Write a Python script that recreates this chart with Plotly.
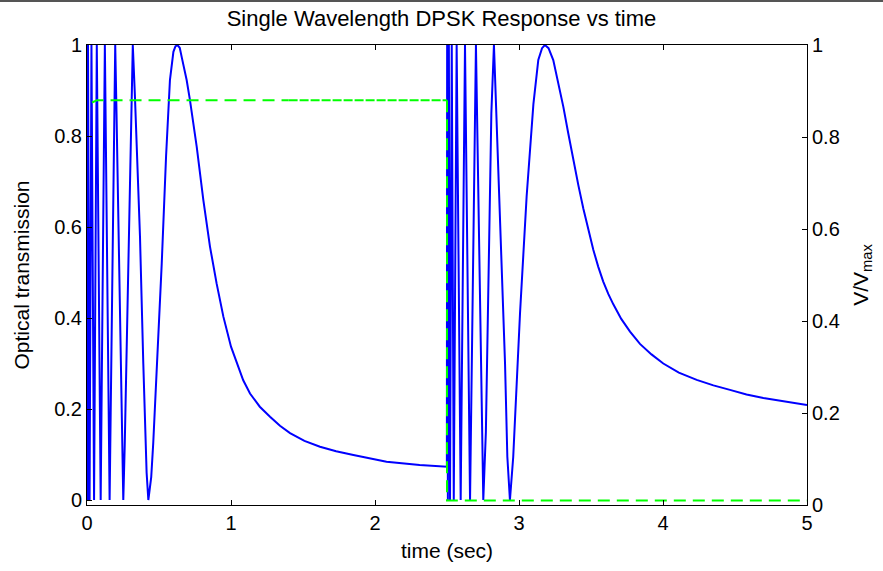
import plotly.graph_objects as go

# Optical transmission (blue): time (sec) and value
time_s = [0.000, 0.001, 0.002, 0.003, 0.004, 0.005, 0.007, 0.018, 0.031, 0.049, 0.068,
          0.095, 0.124, 0.157, 0.196, 0.205, 0.243, 0.252, 0.262, 0.285, 0.308, 0.318,
          0.333, 0.368, 0.391, 0.414, 0.426, 0.446, 0.460, 0.489, 0.519, 0.549, 0.576,
          0.600, 0.614, 0.628, 0.644, 0.660, 0.692, 0.715, 0.762, 0.808, 0.854, 0.900,
          0.947, 1.000, 1.040, 1.085, 1.132, 1.200, 1.271, 1.340, 1.410, 1.510, 1.618,
          1.730, 1.850, 2.080, 2.310, 2.499,
          2.501, 2.506, 2.513, 2.521, 2.533, 2.547, 2.567, 2.595, 2.625, 2.660, 2.701,
          2.752, 2.770, 2.789, 2.808, 2.826, 2.856, 2.880, 2.903, 2.919, 2.937, 2.960,
          3.007, 3.053, 3.100, 3.134, 3.160, 3.180, 3.205, 3.238, 3.272, 3.308, 3.342,
          3.377, 3.412, 3.447, 3.482, 3.516, 3.550, 3.585, 3.620, 3.655, 3.710, 3.771,
          3.840, 3.920, 4.002, 4.110, 4.234, 4.350, 4.465, 4.580, 4.697, 4.850, 5.000]
transmission = [0.45, 0.78, 0.10, 0.75, 0.12, 0.00, 1.00, 0.00, 1.00, 0.00, 1.00,
                0.00, 1.00, 0.00, 1.00, 0.85, 0.15, 0.00, 0.12, 0.50, 0.88, 1.00,
                0.886, 0.579, 0.300, 0.060, 0.00, 0.05, 0.125, 0.308, 0.520, 0.755, 0.923,
                0.985, 0.997, 1.00, 0.994, 0.970, 0.923, 0.879, 0.776, 0.659, 0.557, 0.476,
                0.403, 0.337, 0.300, 0.263, 0.234, 0.205, 0.183, 0.163, 0.147, 0.130, 0.117,
                0.107, 0.099, 0.084, 0.077, 0.073,
                1.00, 0.00, 1.00, 0.00, 1.00, 0.00, 1.00, 0.00, 1.00, 0.00, 1.00,
                0.00, 0.15, 0.50, 0.85, 1.00, 0.74, 0.505, 0.300, 0.095, 0.00, 0.095,
                0.41, 0.667, 0.87, 0.967, 0.993, 1.00, 0.993, 0.967, 0.920, 0.864, 0.806,
                0.747, 0.692, 0.640, 0.593, 0.550, 0.513, 0.480, 0.453, 0.430, 0.398, 0.370,
                0.343, 0.320, 0.300, 0.280, 0.264, 0.252, 0.242, 0.232, 0.224, 0.216, 0.209]

# V/Vmax (green dashed), in three parts: sparse dashes, dense dashes, drop + low level
v_time_a = [0.035, 0.070, 1.400]
v_norm_a = [0.875, 0.880, 0.880]
v_time_b = [1.400, 2.500]
v_norm_b = [0.880, 0.880]
v_time_c = [2.500, 2.500, 5.000]
v_norm_c = [0.880, 0.010, 0.010]

title_text = "Single Wavelength DPSK Response vs time"
x_label = "time (sec)"
y_label = "Optical transmission"
y2_label = "V/V<sub>max</sub>"
x_ticks = [0, 1, 2, 3, 4, 5]
y_ticks = [0, 0.2, 0.4, 0.6, 0.8, 1]
y_tick_text = ["0", "0.2", "0.4", "0.6", "0.8", "1"]

FONT = "Liberation Sans, Arial, sans-serif"
GREEN = "#00ff00"

fig = go.Figure()
fig.add_trace(go.Scatter(x=time_s, y=transmission, mode="lines",
                         line=dict(color="#0000ff", width=2), yaxis="y"))
fig.add_trace(go.Scatter(x=v_time_a, y=v_norm_a, mode="lines",
                         line=dict(color=GREEN, width=2, dash="12px,7px"), yaxis="y2"))
fig.add_trace(go.Scatter(x=v_time_b, y=v_norm_b, mode="lines",
                         line=dict(color=GREEN, width=2, dash="9px,2px"), yaxis="y2"))
fig.add_trace(go.Scatter(x=v_time_c, y=v_norm_c, mode="lines",
                         line=dict(color=GREEN, width=2, dash="12px,7px"), yaxis="y2"))

axis_common = dict(showline=True, linecolor="#000000", linewidth=1, ticks="inside",
                   ticklen=5, tickcolor="#000000", showgrid=False, zeroline=False,
                   automargin=False,
                   tickfont=dict(family=FONT, size=20, color="#000000"))
label_font = dict(family=FONT, size=21, color="#000000")

fig.update_layout(
    width=883, height=571,
    margin=dict(l=87, r=76, t=45, b=66),
    paper_bgcolor="white", plot_bgcolor="white",
    showlegend=False,
    title=dict(text=title_text, x=0.5, xanchor="center", y=1 - 18 / 571, yanchor="middle",
               font=dict(family=FONT, size=22, color="#000000")),
    xaxis=dict(range=[0, 5], tickvals=x_ticks, mirror="ticks",
               title=dict(text=x_label, font=label_font, standoff=10),
               **axis_common),
    yaxis=dict(range=[-0.011, 1], tickvals=y_ticks, ticktext=y_tick_text,
               title=dict(text=y_label, font=label_font, standoff=18),
               **axis_common),
    yaxis2=dict(range=[0, 1], tickvals=y_ticks, ticktext=y_tick_text, overlaying="y",
                side="right",
                title=dict(text=y2_label, font=label_font, standoff=14),
                **axis_common),
    shapes=[dict(type="line", xref="paper", yref="paper", x0=-0.2, x1=1.2,
                 y0=1.0 + 44 / 460, y1=1.0 + 44 / 460,
                 line=dict(color="#555555", width=2))],
)

fig.write_html("out.html", config={"displayModeBar": False},
               post_script="document.body.style.margin='0';")
